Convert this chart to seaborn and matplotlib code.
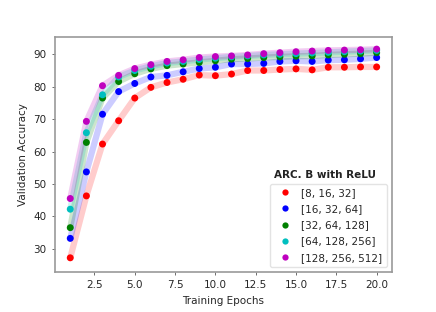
import numpy as np
import pandas as pd
import matplotlib
matplotlib.use("Agg")
import matplotlib.pyplot as plt
import seaborn as sns

epochs = list(range(1, 21))
labels = ["[8, 16, 32]", "[16, 32, 64]", "[32, 64, 128]", "[64, 128, 256]", "[128, 256, 512]"]
red = [27.2, 46.3, 62.3, 69.5, 76.5, 79.8, 81.3, 82.3, 83.6, 83.4, 83.9, 85.0, 85.0, 85.3, 85.5, 85.2, 86.0, 86.0, 86.1, 86.1]
blue = [33.2, 53.7, 71.5, 78.5, 81.0, 83.0, 83.5, 84.6, 85.6, 86.0, 87.0, 87.0, 87.2, 87.8, 88.0, 87.8, 88.2, 88.3, 88.6, 89.0]
green = [36.5, 62.8, 76.5, 81.6, 84.0, 85.5, 86.5, 87.0, 87.5, 88.0, 88.5, 88.7, 89.0, 89.2, 89.4, 89.5, 89.8, 90.0, 90.2, 90.5]
cyan = [42.2, 65.8, 77.5, 83.0, 85.0, 86.3, 87.3, 87.8, 88.4, 88.8, 89.2, 89.5, 89.8, 90.0, 90.2, 90.4, 90.6, 90.8, 91.0, 91.2]
magenta = [45.5, 69.3, 80.3, 83.5, 85.6, 86.8, 87.8, 88.3, 89.0, 89.3, 89.5, 89.8, 90.2, 90.5, 90.8, 91.0, 91.2, 91.3, 91.4, 91.6]
colors = ["#ff0000", "#0000ff", "#008000", "#00bfbf", "#bf00bf"]

series = [red, blue, green, cyan, magenta]
rows = []
for lab, vals in zip(labels, series):
    for e, v in zip(epochs, vals):
        rows.append({"epoch": e, "acc": v, "config": lab})
df = pd.DataFrame(rows)

sns.set_style("white")
plt.rcParams["font.family"] = ["DejaVu Sans"]
fig, ax = plt.subplots(figsize=(4.36, 3.12), dpi=100)
fig.subplots_adjust(left=0.126, right=0.899, bottom=0.128, top=0.881)

palette = dict(zip(labels, colors))
sns.lineplot(data=df, x="epoch", y="acc", hue="config", palette=palette,
             linewidth=4.5, alpha=0.2, legend=False, ax=ax)
sns.scatterplot(data=df, x="epoch", y="acc", hue="config", palette=palette,
                s=25, edgecolor="none", ax=ax, zorder=3)

ax.set_xlabel("Training Epochs", fontsize=7.5)
ax.set_ylabel("Validation Accuracy", fontsize=7.5)
ax.set_xticks([2.5, 5.0, 7.5, 10.0, 12.5, 15.0, 17.5, 20.0])
ax.set_yticks([30, 40, 50, 60, 70, 80, 90])
ax.set_xlim(0.05, 20.95)
ax.set_ylim(22.8, 95.3)
ax.tick_params(axis="both", labelsize=7.5, length=2.5, width=0.6, color="#555555", left=True, bottom=True)
for sp in ax.spines.values():
    sp.set_color("#999999")
    sp.set_linewidth(1.2)

leg = ax.legend(loc="lower right", fontsize=7.5,
                markerscale=0.9, frameon=True, borderpad=0.4,
                labelspacing=0.6, handletextpad=0.6)
leg.get_frame().set_edgecolor("#dddddd")
ax.text(0.80, 0.413, "ARC. B with ReLU", transform=ax.transAxes, ha="center",
        va="center", fontsize=7.5, fontweight="semibold", color="#222222")

fig.savefig("out.png", dpi=100)
